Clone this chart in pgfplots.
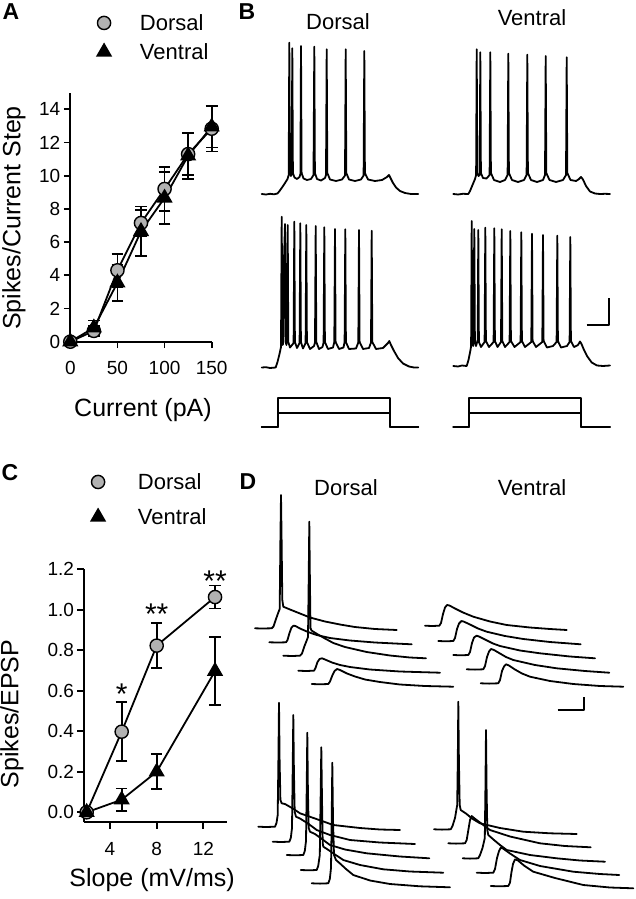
\documentclass[border=0pt]{standalone}
\usepackage{fontspec}
\setmainfont{Liberation Sans}
\usepackage{pgfplots}
\pgfplotsset{compat=1.18}
\definecolor{dgray}{RGB}{178,178,178}
\pgfplotsset{
  trace/.style={black, line width=1.8pt, line join=round, line cap=round, mark=none},
  panel/.style={scale only axis, axis lines*=left, axis line style={line width=1.8pt, black},
    tick align=outside, major tick length=6.5pt, tick style={line width=1.8pt, black},
    tick label style={font=\fontsize{19}{22}\selectfont},
    xticklabel style={yshift=-10pt},
    label style={font=\fontsize{25}{30}\selectfont},
    /pgf/number format/assume math mode=true, clip=false,
    legend cell align=left,
    legend image code/.code={\draw[##1] plot coordinates {(0pt,0pt)}; \path (-7.5pt,0pt) (35pt,0pt);}},
  dors/.style={black, line width=1.8pt, mark=*, mark size=6.6pt, mark options={fill=dgray, draw=black, line width=1.4pt}},
  vent/.style={black, line width=1.8pt, mark=triangle*, mark size=7.6pt, mark options={fill=black, draw=black}},
  ebar/.style={error bars/.cd, y dir=both, y explicit, error mark options={rotate=90, mark size=5.8pt, line width=1.8pt, black}, error bar style={line width=1.8pt, black}, /pgfplots/.cd},
}
\begin{document}
\begin{tikzpicture}
\useasboundingbox (0,0) rectangle (636pt,899pt);
% ---------- canvas for traces (pixel coordinates) ----------
\begin{axis}[at={(0pt,0pt)}, anchor=south west, scale only axis, width=636pt, height=899pt,
  xmin=0, xmax=636, ymin=0, ymax=899, y dir=reverse, hide axis, clip=false]
% panel letters and titles
\node[font=\bfseries\fontsize{23}{26}\selectfont] at (axis cs:11,12) {A};
\node[font=\bfseries\fontsize{23}{26}\selectfont] at (axis cs:247,12) {B};
\node[font=\bfseries\fontsize{23}{26}\selectfont] at (axis cs:10,473) {C};
\node[font=\bfseries\fontsize{23}{26}\selectfont] at (axis cs:248,482) {D};
\node[font=\fontsize{22}{26}\selectfont] at (axis cs:338,22) {Dorsal};
\node[font=\fontsize{22}{26}\selectfont] at (axis cs:532,18) {Ventral};
\node[font=\fontsize{22}{26}\selectfont] at (axis cs:346,488) {Dorsal};
\node[font=\fontsize{22}{26}\selectfont] at (axis cs:532,488) {Ventral};
% ---- B: dorsal, weak step ----
\addplot[trace] coordinates {(261.7,194)(266,194.5)(270,193.8)(274,194.3)(277.5,193.5)(279.5,191)(282,187.5)(285,183)(287.5,179)(288.7,175)(289.3,42.7)(289.9,172)(290.9,176)(291.7,174)(292.3,48.3)(292.9,173)(294.5,177.5)(297,179)(299.5,177)(300.4,174)(301,46)(301.6,173)(303.5,178.5)(307,180)(311,179)(313.5,175)(314.3,46.7)(314.9,173)(317,179)(321,180.5)(325,178)(326,175)(326.7,49.3)(327.3,173)(330,179.5)(336,181)(342,179.5)(345,175.5)(345.7,49.3)(346.3,173)(349,179.5)(355,181)(361,179.5)(363.6,175.5)(364.3,51)(364.9,173)(368,179.5)(375,181)(382,180)(387,177)(389,175)(390.5,178)(393,183)(396,187.5)(400,191)(405,193)(411,194)(418.3,194)};
% ---- B: ventral, weak step ----
\addplot[trace] coordinates {(453.3,194)(458,194.5)(463,193.8)(468.3,194)(470,191)(472.5,185)(475,179)(476.1,175)(476.7,49.3)(477.3,173)(478.5,176)(479.7,175)(480.3,52.3)(480.9,173)(483,178)(486.5,178.5)(489.6,175)(490.3,52.3)(490.9,173)(494,180)(500,182)(505,180)(507.6,175)(508.3,53.7)(508.9,173)(512,180)(518,182)(524,180)(526.6,175)(527.3,54.7)(527.9,173)(531,180)(537,182)(543,180)(545,175)(545.7,56)(546.3,173)(549.5,180)(556,182)(563,180)(566,175)(566.7,57.3)(567.3,173)(570.5,180)(576,181)(579,179)(581,177)(583,179.5)(586,186)(590,191.5)(595,193.5)(600,194)(605,193.8)(610,194)};
% ---- B: dorsal, strong step ----
\addplot[trace] coordinates {(261.7,367.5)(266,367.2)(270,368)(275.7,367.5)(277.5,362)(279.5,354)(281,347)(281.7,216.7)(282.4,345)(283,344)(283.6,300)(284,260)(285,224)(285.6,342)(286.5,345)(287.1,300)(287.7,225)(288.3,342)(290,347.5)(293.6,343)(294.3,221.7)(294.9,342)(297,348)(299.6,343)(300.3,223.3)(300.9,342)(303,348.5)(305.6,343)(306.3,225)(306.9,342)(310,349)(314,346)(315,342.5)(315.7,226)(316.3,342)(319,349)(322.5,347)(323.6,342.5)(324.3,227.3)(324.9,342)(328,349)(333,347.5)(334.3,342)(335,229)(335.6,342)(339,349)(343.5,347.5)(344.6,342)(345.3,229.3)(345.9,342)(349,349)(356,348.5)(358.3,342.5)(359,230)(359.6,342)(363,349)(369,348)(371,342.5)(371.7,230.7)(372.3,342)(376,349)(383,348)(388,343)(389.3,341)(391,345)(394,351)(398,358)(403,363.5)(409,366.5)(414,367.5)(418.3,367.5)};
% ---- B: ventral, strong step ----
\addplot[trace] coordinates {(453.3,366)(458,366.5)(462,365.5)(466.7,366)(468.5,360)(470.5,350)(471.1,346)(471.7,221)(472.3,342)(473.2,346)(473.7,300)(474.3,229)(474.9,342)(476,346)(477.7,340)(478.3,230)(478.9,342)(481,347)(484.6,342)(485.3,227.7)(485.9,341)(489,347)(493.6,342)(494.3,228.3)(494.9,341)(497.5,347)(501,342)(501.7,229.3)(502.3,341)(505,347)(509.6,342)(510.3,231)(510.9,341)(514.5,347)(520.6,342)(521.3,232.3)(521.9,341)(525,347)(531.3,342)(532,233.7)(532.6,341)(536,347)(542.3,342)(543,235)(543.6,341)(547,347.5)(553,346)(556.6,342)(557.3,235.7)(557.9,341)(561,347.5)(567,346)(569.6,342)(570.3,237)(570.9,341)(574,347)(578,345)(580,341.5)(581.5,344)(584,350)(587,356)(591.7,362.5)(597,365.5)(603,366)(610,365.5)};
% ---- B: current steps ----
\addplot[trace] coordinates {(261.7,426.7)(278,426.7)(278,413.3)(389.7,413.3)(389.7,426.7)(418.3,426.7)};
\addplot[trace] coordinates {(261.7,426.7)(278,426.7)(278,398.3)(389.7,398.3)(389.7,426.7)(418.3,426.7)};
\addplot[trace] coordinates {(453.3,426.7)(469.3,426.7)(469.3,413.3)(580.7,413.3)(580.7,426.7)(610,426.7)};
\addplot[trace] coordinates {(453.3,426.7)(469.3,426.7)(469.3,398.3)(580.7,398.3)(580.7,426.7)(610,426.7)};
% ---- B scale bar ----
\addplot[trace, line cap=butt] coordinates {(586.7,325)(609.3,325)(609.3,297.7)};
% ---- D: dorsal, top set ----
\addplot[trace] coordinates {(255,628.3)(262,628.5)(271.7,628.3)(273.5,626.5)(276,619)(278.5,612)(279.7,609)(280.4,540)(281,495)(281.6,540)(282.3,600)(283.3,606.7)(290,609.5)(300,613.5)(310,617.5)(325,621.5)(340,624.5)(355,627)(375,629)(396.7,630)};
\addplot[trace] coordinates {(269.3,642.3)(278,642.5)(286,642.3)(287.5,640)(289.5,633)(291.5,627.5)(293.5,625.7)(295.5,626)(300,628.5)(308,632)(316.7,635)(330,638)(350,640.5)(375,642.5)(395,643.5)(411.7,644.3)};
\addplot[trace] coordinates {(283.3,655.7)(292,656)(300,655.7)(302,653.5)(304.5,646)(306.5,641)(308,637)(308.7,580)(309.3,521.7)(309.9,580)(310.5,628)(311.5,630.5)(318,634.5)(325,638.5)(333.3,643)(345,647)(366.7,652)(390,655.5)(410,657.5)(426,658.3)};
\addplot[trace] coordinates {(298.3,670.7)(306,671)(314,670.7)(315.5,668)(317.5,662)(319.5,659)(322,658.3)(325,659.5)(332,662.5)(340,665)(350,667)(370,669.5)(400,671.5)(440,672.7)};
\addplot[trace] coordinates {(311.7,684)(320,684.3)(328.3,684)(330,681.5)(332.5,675)(334.5,671)(337,669)(340,670)(347,673.5)(355,676.5)(365,679.5)(380,682)(400,684.5)(425,686)(453.3,686.7)};
% ---- D: ventral, top set ----
\addplot[trace] coordinates {(425,625.7)(432,626)(439.3,625.7)(441,623)(443,614)(445,607.5)(447,605)(449.5,605.5)(455,608.5)(463,612.5)(473.3,616.7)(490,621.5)(506.7,625)(530,627.5)(550,629)(566.7,630)};
\addplot[trace] coordinates {(438.3,641)(446,641.3)(453.3,641)(455,638)(457,629)(459,623.5)(461.5,621)(464,621.7)(470,624.5)(478,628.5)(486.7,631.7)(505,636)(523.3,639)(550,642)(580.7,644.3)};
\addplot[trace] coordinates {(453.3,655)(461,655.3)(468.3,655)(470,652)(472,643)(474,637.5)(476.5,635.7)(479,636.5)(486,640)(493,643.5)(500,646)(520,650.5)(540,653.3)(570,656.5)(595,658.3)};
\addplot[trace] coordinates {(466.7,669.3)(475,669.6)(483.3,669.3)(485,666)(487,657)(489,651.5)(491,649)(494,650)(500,653.5)(506,657)(513.3,660)(535,665)(556.7,668.3)(585,671)(609.3,672.7)};
\addplot[trace] coordinates {(480.7,683.3)(489,683.6)(498.3,683.3)(500,680)(502,671)(504,666.5)(506,664.3)(509,665.5)(515,669.5)(522,673.5)(530,676.7)(550,681)(573.3,684)(600,686)(623.3,686.7)};
% ---- D scale bar ----
\addplot[trace, line cap=butt] coordinates {(557.7,710)(584.3,710)(584.3,696.7)};
% ---- D: dorsal, bottom set ----
\addplot[trace] coordinates {(258.3,826.7)(266,827)(275,826.7)(276.5,823)(277.7,815)(278.4,760)(279,702.7)(279.6,760)(280.4,800)(281.7,803.3)(285,804)(292,808)(300,813.3)(315,818.5)(333.3,825)(360,828)(380,829.5)(400,830)};
\addplot[trace] coordinates {(272.7,841.7)(281,842)(289.3,841.7)(290.8,838)(292,828)(292.7,770)(293.3,715)(293.9,770)(294.7,812)(296,816.7)(300,818.5)(308,823.5)(316.7,830)(330,835)(350,840)(380,842.5)(415,844)};
\addplot[trace] coordinates {(286.7,855)(295,855.3)(303.3,855)(304.8,851)(306,841)(306.7,790)(307.3,732.7)(307.9,790)(308.7,828)(310,831.7)(315,834)(322,839)(330,845)(345,849.5)(366.7,853.3)(400,856.5)(429.3,858.3)};
\addplot[trace] coordinates {(300.7,870)(309,870.3)(316.7,870)(318.2,866)(319.8,855)(320.6,800)(321.3,747.3)(322,800)(322.7,843)(323.3,846.7)(327,849)(335,854.5)(343.3,860)(360,865)(383.3,869.3)(410,871.5)(443.3,872.7)};
\addplot[trace] coordinates {(311.7,883.3)(320,883.6)(328.3,883.3)(329.8,879)(331,868)(331.7,820)(332.3,762.7)(333,820)(334,855)(336,860)(340,863.5)(346,869)(353.3,875)(370,880.5)(390,884)(420,886.3)(450,887.3)};
% ---- D: ventral, bottom set ----
\addplot[trace] coordinates {(434,829.3)(442,829.6)(450.7,829.3)(452.5,826)(455,818)(457.2,805)(457.8,760)(458.3,701.7)(458.9,760)(459.7,805)(460.7,810)(466,813.5)(472,818.5)(480,823.3)(500,828)(523.3,831.7)(550,833.3)(576.7,834)};
\addplot[trace] coordinates {(448.3,843.3)(456,843.6)(465,843.3)(466.7,840)(468.5,829)(470,820)(471.7,816)(474,818)(480,822.5)(490,830)(510,836.5)(540,843.3)(565,846)(590.7,847.3)};
\addplot[trace] coordinates {(462.7,858.3)(470,858.6)(478.3,858.3)(480,855)(482.5,848)(484.8,838)(485.4,790)(486,730)(486.6,790)(487.3,830)(488.3,835)(494,840)(500,845)(506.7,850)(530,855)(556.7,858.3)(580,860.5)(605,861.7)};
\addplot[trace] coordinates {(476.7,872.7)(485,873)(493.3,872.7)(495,869)(497,858)(499,851)(500.7,847.7)(503,848.5)(510,853.5)(520,860)(540,866)(573.3,871.7)(600,874)(619.3,875)};
\addplot[trace] coordinates {(490.7,886)(499,886.3)(508.3,886)(510,882.5)(511.5,872)(513,864)(515,859.3)(518,860.5)(524,865.5)(533.3,871.7)(555,878)(583.3,885)(610,887.5)(633.3,888.3)};
\end{axis}
% ---------- Panel A ----------
\begin{axis}[panel, at={(70.3pt,557.3pt)}, anchor=south west, width=141.4pt, height=249pt,
  xmin=0, xmax=150, ymin=0, ymax=15,
  xtick={0,50,100,150}, ytick={0,2,4,6,8,10,12,14},
  xlabel={Current (pA)}, ylabel={Spikes/Current Step},
  xlabel style={at={(axis description cs:0.514,-0.274)}, anchor=center},
  ylabel style={at={(axis description cs:-0.398,0.497)}, anchor=center},
  legend style={at={(axis description cs:0.178,1.222)}, anchor=west, draw=none, fill=none,
    inner sep=0pt, row sep=13pt, nodes={inner sep=0pt, text depth=0pt, font=\fontsize{22}{26}\selectfont}}]
\addplot[dors, forget plot, ebar] coordinates {(0,0)+-(0,0.1) (25,0.65)+-(0,0.3) (50,4.3)+-(0,1.0) (75,7.15)+-(0,0.8) (100,9.2)+-(0,1.34) (125,11.3)+-(0,1.26) (150,12.83)+-(0,1.37)};
\addplot[vent, forget plot, ebar] coordinates {(0,0)+-(0,0.1) (25,0.84)+-(0,0.44) (50,3.55)+-(0,1.1) (75,6.65)+-(0,1.5) (100,8.66)+-(0,1.57) (125,11.2)+-(0,1.4) (150,12.95)+-(0,1.25)};
\addlegendimage{dors}
\addlegendentry{Dorsal}
\addlegendimage{vent}
\addlegendentry{Ventral}
\end{axis}
% ---------- Panel C ----------
\begin{axis}[panel, at={(84pt,76.6pt)}, anchor=south west, width=142.7pt, height=253.1pt,
  xmin=1.77, xmax=14, ymin=-0.05, ymax=1.2,
  xtick={4,8,12}, ytick={0,0.2,0.4,0.6,0.8,1.0,1.2},
  yticklabel style={/pgf/number format/.cd, fixed, fixed zerofill, precision=1},
  xlabel={Slope (mV/ms)}, ylabel={Spikes/EPSP},
  xlabel style={at={(axis description cs:0.477,-0.228)}, anchor=center},
  ylabel style={at={(axis description cs:-0.505,0.428)}, anchor=center},
  legend image code/.code={\draw[#1] plot coordinates {(0pt,0pt)}; \path (-7.5pt,0pt) (39pt,0pt);},
  legend style={at={(axis description cs:0.0385,1.276)}, anchor=west, draw=none, fill=none,
    inner sep=0pt, row sep=19pt, nodes={inner sep=0pt, text depth=0pt, font=\fontsize{22}{26}\selectfont}}]
\addplot[dors, forget plot, ebar] coordinates {(2,0)+-(0,0) (5,0.398)+-(0,0.145) (8,0.823)+-(0,0.11) (13,1.063)+-(0,0.057)};
\addplot[vent, forget plot, ebar] coordinates {(2,0)+-(0,0) (5,0.062)+-(0,0.055) (8,0.2)+-(0,0.087) (13,0.697)+-(0,0.168)};
\addlegendimage{dors}
\addlegendentry{Dorsal}
\addlegendimage{vent}
\addlegendentry{Ventral}
\node[font=\fontsize{30}{34}\selectfont, anchor=base] at (axis cs:5,0.612) [yshift=-16.5pt] {*};
\node[font=\fontsize{30}{34}\selectfont, anchor=base] at (axis cs:8,1.01) [yshift=-16.5pt] {**};
\node[font=\fontsize{30}{34}\selectfont, anchor=base] at (axis cs:13,1.172) [yshift=-16.5pt] {**};
\end{axis}
\end{tikzpicture}
\end{document}
